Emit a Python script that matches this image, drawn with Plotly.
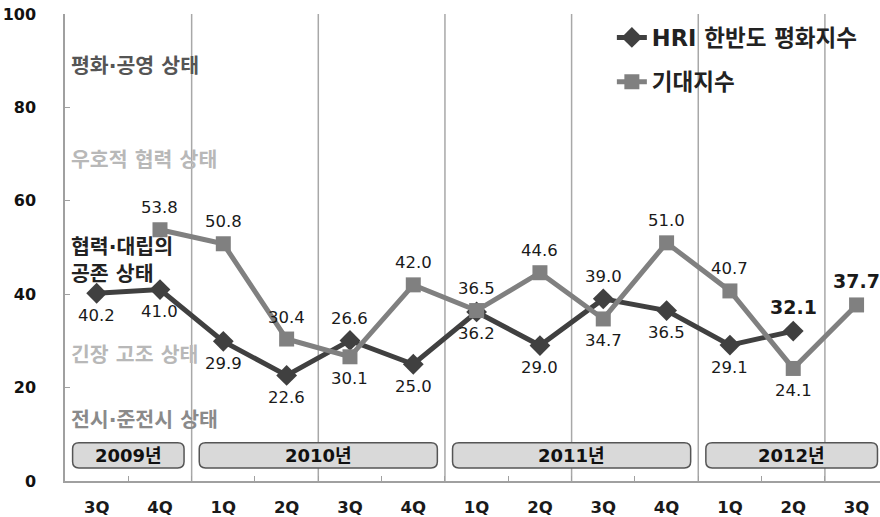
import plotly.graph_objects as go

quarters = ["3Q", "4Q", "1Q", "2Q", "3Q", "4Q", "1Q", "2Q", "3Q", "4Q", "1Q", "2Q", "3Q"]
hri_name = "HRI 한반도 평화지수"
expect_name = "기대지수"
hri_values = [40.2, 41.0, 29.9, 22.6, 30.1, 25.0, 36.2, 29.0, 39.0, 36.5, 29.1, 32.1]
expect_values = [53.8, 50.8, 30.4, 26.6, 42.0, 36.5, 44.6, 34.7, 51.0, 40.7, 24.1, 37.7]
hri_start = 0
expect_start = 1
hri_label_side = ["below"] * 8 + ["above", "below", "below", "above"]
expect_label_side = ["above"] * 7 + ["below", "above", "above", "below", "above"]

years = ["2009년", "2010년", "2011년", "2012년"]
year_first = [0, 2, 6, 10]
year_last = [1, 5, 9, 12]
grid_positions = [1.5, 3.5, 5.5, 7.5, 9.5, 11.5]

zone_texts = ["평화·공영 상태", "우호적 협력 상태", "협력·대립의<br>공존 상태", "긴장 고조 상태", "전시·준전시 상태"]
zone_y = [88.9, 68.7, 47.3, 27.0, 13.1]
zone_colors = ["#555555", "#b8b8b8", "#222222", "#b8b8b8", "#8a8a8a"]

FONT = "DejaVu Sans, Noto Sans CJK KR, sans-serif"
HRI_COLOR = "#404040"
EXP_COLOR = "#808080"
XMIN, XMAX = -0.5, 12.37

hri_x = list(range(hri_start, hri_start + len(hri_values)))
exp_x = list(range(expect_start, expect_start + len(expect_values)))
hri_map = dict(zip(hri_x, hri_values))
exp_map = dict(zip(exp_x, expect_values))

fig = go.Figure()
fig.add_trace(go.Scatter(
    x=hri_x, y=hri_values, name=hri_name, mode="lines+markers",
    line=dict(color=HRI_COLOR, width=5),
    marker=dict(symbol="diamond", size=16, color=HRI_COLOR),
    legendgroup="a",
))
fig.add_trace(go.Scatter(
    x=exp_x, y=expect_values, name=expect_name, mode="lines+markers",
    line=dict(color=EXP_COLOR, width=5),
    marker=dict(symbol="square", size=15, color=EXP_COLOR),
    legendgroup="b",
))

annotations = []
def add_labels(xs, vals, sides):
    for i, (x, v, s) in enumerate(zip(xs, vals, sides)):
        last = i == len(vals) - 1
        pair = [w for w in (hri_map.get(x), exp_map.get(x)) if w is not None]
        anchor = max(pair) if s == "above" else min(pair)
        annotations.append(dict(
            x=x, y=anchor, xref="x", yref="y", text=f"{v:.1f}", showarrow=False,
            yshift=(24 if last else 22) if s == "above" else -22,
            font=dict(family=FONT, size=19 if last else 16.5, color="#1a1a1a",
                      weight="bold" if last else "normal"),
        ))
add_labels(hri_x, hri_values, hri_label_side)
add_labels(exp_x, expect_values, expect_label_side)

for t, y, c in zip(zone_texts, zone_y, zone_colors):
    annotations.append(dict(
        x=-0.44, y=y, xref="x", yref="y", text=t, showarrow=False,
        xanchor="left", align="left",
        font=dict(family=FONT, size=20.5, color=c, weight="bold"),
    ))

shapes = []
for g in grid_positions:
    shapes.append(dict(type="line", xref="x", yref="y", x0=g, x1=g, y0=0, y1=100,
                       line=dict(color="#a8a8a8", width=1.5), layer="below"))

def rounded_rect(x0, x1, y0, y1, rx=0.1, ry=1.3):
    return (f"M {x0+rx},{y0} L {x1-rx},{y0} Q {x1},{y0} {x1},{y0+ry} "
            f"L {x1},{y1-ry} Q {x1},{y1} {x1-rx},{y1} L {x0+rx},{y1} "
            f"Q {x0},{y1} {x0},{y1-ry} L {x0},{y0+ry} Q {x0},{y0} {x0+rx},{y0} Z")

for name, a, b in zip(years, year_first, year_last):
    x0 = a - 0.38
    x1 = min(b + 0.38, XMAX - 0.04)
    shapes.append(dict(type="path", xref="x", yref="y",
                       path=rounded_rect(x0, x1, 2.8, 8.2),
                       fillcolor="#d9d9d9", line=dict(color="#555555", width=1.5)))
    annotations.append(dict(x=(x0 + x1) / 2, y=5.5, xref="x", yref="y", text=name,
                            showarrow=False,
                            font=dict(family=FONT, size=18, color="#111111", weight="bold")))

fig.update_layout(
    width=880, height=517,
    margin=dict(l=65, r=0, t=14, b=36),
    paper_bgcolor="white", plot_bgcolor="white",
    showlegend=True,
    legend=dict(x=0.671, y=0.995, xanchor="left", yanchor="top",
                bgcolor="rgba(0,0,0,0)", tracegroupgap=12, traceorder="grouped",
                font=dict(family=FONT, size=22.5, color="#222222", weight="bold")),
    annotations=annotations, shapes=shapes,
    xaxis=dict(
        range=[XMIN, XMAX], tickmode="array", tickvals=list(range(len(quarters))),
        ticktext=quarters, ticks="", showgrid=False, zeroline=False,
        showline=True, linecolor="#a0a0a0", linewidth=1.5, automargin=False,
        ticklabelstandoff=10, ticklabeloverflow="allow",
        tickfont=dict(family=FONT, size=16.5, color="#1a1a1a", weight="bold"),
        minor=dict(tickmode="array", tickvals=[i + 0.5 for i in range(len(quarters) - 1)],
                   ticks="inside", ticklen=5, tickcolor="#a0a0a0", showgrid=False),
    ),
    yaxis=dict(
        range=[0, 100], tickvals=[0, 20, 40, 60, 80, 100], ticks="inside",
        ticklen=5, tickcolor="#a0a0a0", showgrid=False, zeroline=False,
        showline=True, linecolor="#a0a0a0", linewidth=1.5, automargin=False,
        ticklabelstandoff=24, ticklabeloverflow="allow",
        tickfont=dict(family=FONT, size=16, color="#111111", weight="bold"),
    ),
)

fig.write_html("out.html", config={"displayModeBar": False},
               post_script="document.body.style.margin='0';document.body.style.overflow='hidden';")
